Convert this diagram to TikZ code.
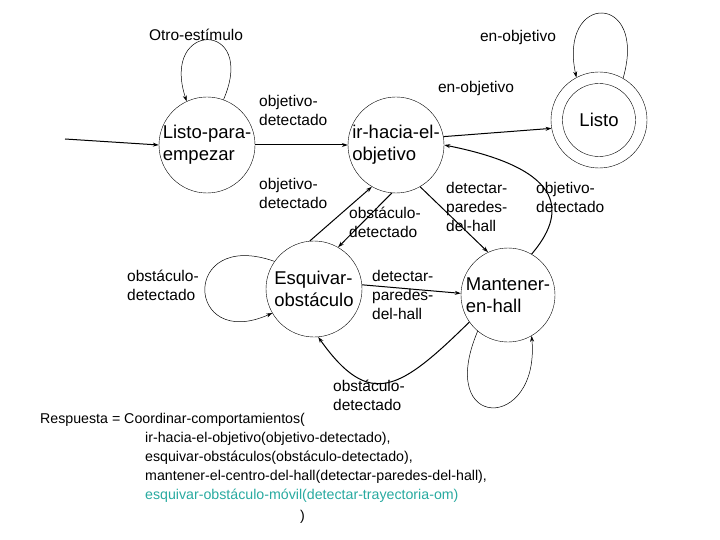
\documentclass[tikz,border=0pt]{standalone}
\usepackage{fontspec}
\setmainfont{Liberation Sans}
\usetikzlibrary{arrows.meta}
\definecolor{teal2}{RGB}{40,170,160}
\begin{document}
\begin{tikzpicture}[x=1pt,y=-1pt,
  st/.style={draw,circle,minimum size=96pt,inner sep=0pt},
  stt/.style={align=left,font=\fontsize{18.5}{22}\selectfont,inner sep=0pt},
  lbl/.style={align=left,font=\fontsize{15.5}{19}\selectfont,inner sep=0pt},
  edge/.style={-{Stealth[length=6pt,width=4pt]},line width=1pt},
  loop/.style={-{Stealth[length=6pt,width=4pt]},line width=0.5pt}]
\useasboundingbox (0,0) rectangle (720,540);
\node[st] (s1) at (207,145) {};
\node[stt] at (s1) {Listo-para-\\empezar};
\node[st] (s2) at (396,145) {};
\node[stt] at (s2) {ir-hacia-el-\\objetivo};
\node[st] (s3) at (599,120) {};
\node[draw,circle,minimum size=73pt,inner sep=0pt] (s3i) at (599,120) {};
\node[stt] at (s3) {Listo};
\node[st] (s4) at (314,289) {};
\node[stt] at (s4) {Esquivar-\\obstáculo};
\node[st,minimum size=94pt] (s5) at (508,295) {};
\node[stt] at (s5) {Mantener-\\en-hall};
\coordinate (in) at (65,139);
% edges
\draw[edge] (in) -- (s1.west);
\draw[edge] (s1.east) -- (s2.west);
\draw[edge] (s2.10) -- (s3.190);
\draw[edge] (s5.60) .. controls (565,215) and (570,170) .. (s2.0);
\draw[edge] (s4.95) -- (s2.240);
\draw[edge] (s2.265) -- (s4.60);
\draw[edge] (s2.300) -- (s5.115);
\draw[edge] (s4.5) -- (s5.178);
\draw[edge] (s5.215) .. controls (400,390) and (370,410) .. (s4.275);
% loops
\draw[loop] (s1.70) .. controls (258,20) and (160,20) .. (s1.115);
\draw[loop] (s3.60) .. controls (648,-8) and (558,-8) .. (s3.118);
\draw[loop] (s4.145) .. controls (180,228) and (185,352) .. (s4.210);
\draw[loop] (s5.230) .. controls (435,432) and (540,432) .. (s5.300);
% labels
\node[lbl] (l1) at (196,35) {Otro-estímulo};
\node[lbl] (l2) at (518,37) {en-objetivo};
\node[lbl] (l3) at (476,88) {en-objetivo};
\node[lbl,anchor=north west] (l4) at (259,95) {objetivo-\\detectado};
\node[lbl,anchor=north west] (l5) at (259,178) {objetivo-\\detectado};
\node[lbl,anchor=north west] (l6) at (349,207) {obstáculo-\\detectado};
\node[lbl,anchor=north west] (l7) at (446,182) {detectar-\\paredes-\\del-hall};
\node[lbl,anchor=north west] (l8) at (536,182) {objetivo-\\detectado};
\node[lbl,anchor=north west] (l9) at (127,270) {obstáculo-\\detectado};
\node[lbl,anchor=north west] (l10) at (372,270) {detectar-\\paredes-\\del-hall};
\node[lbl,anchor=north west] (l11) at (333,380) {obstáculo-\\detectado};
% code
\begin{scope}[every node/.style={anchor=base west,inner sep=0pt,font=\fontsize{14.2}{16}\selectfont}]
\node (c1) at (40,423) {Respuesta = Coordinar-comportamientos(};
\node (c2) at (145,442) {ir-hacia-el-objetivo(objetivo-detectado),};
\node (c3) at (145,461) {esquivar-obstáculos(obstáculo-detectado),};
\node (c4) at (145,480) {mantener-el-centro-del-hall(detectar-paredes-del-hall),};
\node[text=teal2] (c5) at (145,499) {esquivar-obstáculo-móvil(detectar-trayectoria-om)};
\node (c6) at (300,520) {)};
\end{scope}
\end{tikzpicture}
\end{document}
